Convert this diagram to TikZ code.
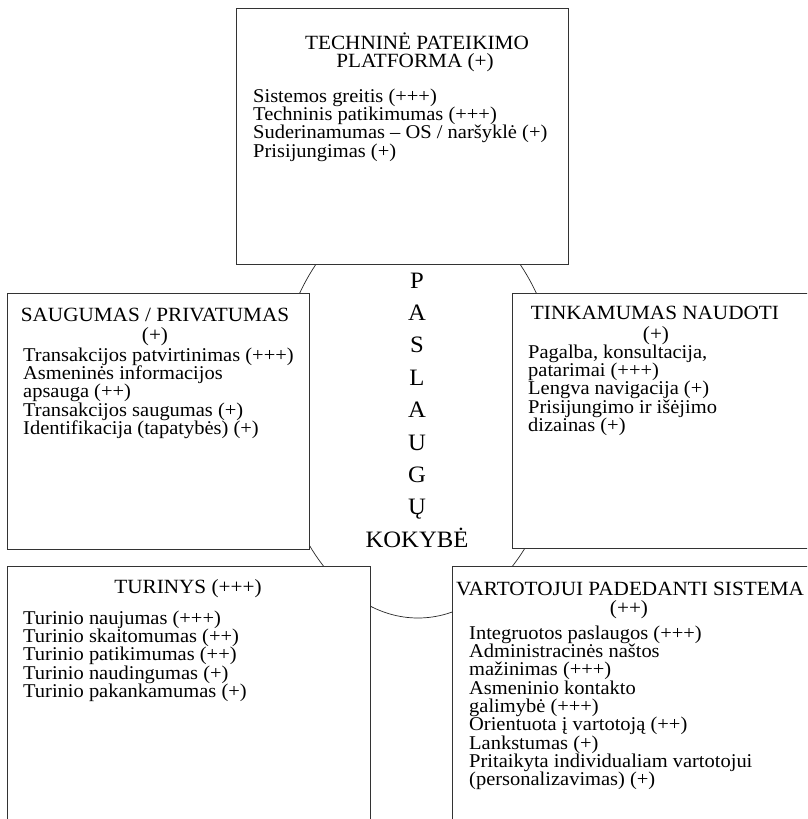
\documentclass[tikz,border=0pt]{standalone}
\usepackage{fontspec}
\setmainfont{Liberation Serif}[FakeStretch=1.05]
\begin{document}
\begin{tikzpicture}[x=1pt,y=-1pt,
  frame/.style={draw=black!80, line width=0.9pt, fill=white, inner sep=0pt, anchor=north west},
  ttl/.style={anchor=base, inner sep=0pt, font=\fontsize{20.2}{18.4}\selectfont},
  item/.style={anchor=base west, inner sep=0pt, font=\fontsize{19.5}{18.4}\selectfont},
  core/.style={anchor=base, inner sep=0pt, font=\fontsize{23.5}{22}\selectfont}]
\useasboundingbox (0,0) rectangle (807,819);
\clip (0,0) rectangle (807,819);

% central oval behind the boxes
\draw[line width=0.7pt, black!85] (418,410) ellipse [x radius=143, y radius=208];

% the five dimension boxes
\node[frame, minimum width=332, minimum height=256] (tp) at (236,8) {};
\node[frame, minimum width=302, minimum height=256] (sp) at (7,293) {};
\node[frame, minimum width=330, minimum height=255] (tn) at (512,293) {};
\node[frame, minimum width=363, minimum height=280] (tu) at (7,566) {};
\node[frame, minimum width=380, minimum height=280] (vp) at (452,566) {};

% central title, one letter per line
\foreach \c [count=\i from 0] in {P,A,S,L,A,U,G,Ų,KOKYBĖ}
  \node[core] (pq-\i) at (417, 288+32.4*\i) {\c};

% technical platform
\node[ttl] (tp-t1) at (417,49.3) {TECHNINĖ PATEIKIMO};
\node[ttl] (tp-t2) at (415,67.7) {PLATFORMA (+)};
\foreach \t [count=\i from 0] in {Sistemos greitis (+++), Techninis patikimumas (+++),
    Suderinamumas – OS / naršyklė (+), Prisijungimas (+)}
  \node[item] (tp-\i) at (253, 102+18.4*\i) {\t};

% security / privacy
\node[ttl] (sp-t1) at (155,321) {SAUGUMAS / PRIVATUMAS};
\node[ttl] (sp-t2) at (155,341) {(+)};
\foreach \t [count=\i from 0] in {Transakcijos patvirtinimas (+++), Asmeninės informacijos,
    apsauga (++), Transakcijos saugumas (+), Identifikacija (tapatybės) (+)}
  \node[item] (sp-\i) at (23, 361+18.4*\i) {\t};

% usability
\node[ttl] (tn-t1) at (655,319) {TINKAMUMAS NAUDOTI};
\node[ttl] (tn-t2) at (656,340) {(+)};
\foreach \t [count=\i from 0] in {{Pagalba, konsultacija,}, patarimai (+++),
    Lengva navigacija (+), Prisijungimo ir išėjimo, dizainas (+)}
  \node[item] (tn-\i) at (528, 358+18.4*\i) {\t};

% content
\node[ttl] (tu-t1) at (188,593) {TURINYS (+++)};
\foreach \t [count=\i from 0] in {Turinio naujumas (+++), Turinio skaitomumas (++),
    Turinio patikimumas (++), Turinio naudingumas (+), Turinio pakankamumas (+)}
  \node[item] (tu-\i) at (23, 624+18.4*\i) {\t};

% user-supporting system
\node[ttl] (vp-t1) at (630,595) {VARTOTOJUI PADEDANTI SISTEMA};
\node[ttl] (vp-t2) at (629,614) {(++)};
\foreach \t [count=\i from 0] in {Integruotos paslaugos (+++), Administracinės naštos,
    mažinimas (+++), Asmeninio kontakto, galimybė (+++), Orientuota į vartotoją (++),
    Lankstumas (+), Pritaikyta individualiam vartotojui, (personalizavimas) (+)}
  \node[item] (vp-\i) at (469, 639+18.35*\i) {\t};
\end{tikzpicture}
\end{document}
